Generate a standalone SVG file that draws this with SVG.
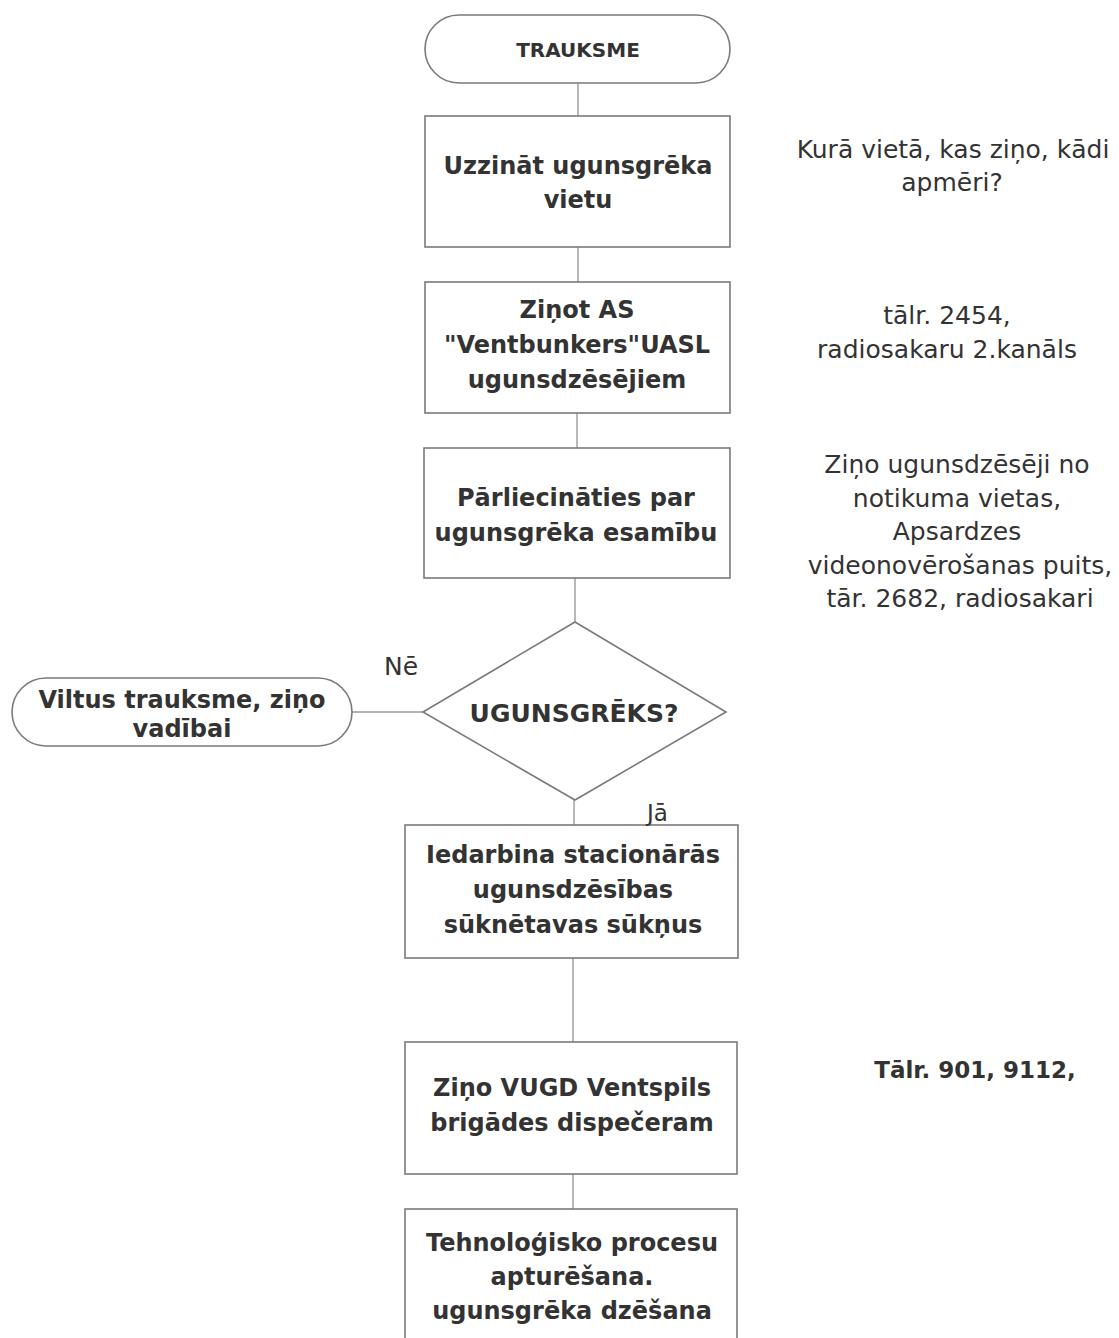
<svg xmlns="http://www.w3.org/2000/svg" width="1119" height="1338" viewBox="0 0 1119 1338">
<style>
.shape{fill:#fff;stroke:#7a7a7a;stroke-width:1.6}
.conn{fill:none;stroke:#9a9a9a;stroke-width:1.4}
.b{font-family:"DejaVu Sans","Liberation Sans",sans-serif;font-weight:bold;font-size:24px;fill:#333;text-anchor:middle}
.r{font-family:"DejaVu Sans","Liberation Sans",sans-serif;font-size:25px;fill:#333;text-anchor:middle}
</style>
<rect width="1119" height="1338" fill="#fff"/>
<g id="connectors">
<line class="conn" x1="578" y1="83" x2="578" y2="116"/>
<line class="conn" x1="578" y1="247" x2="578" y2="282"/>
<line class="conn" x1="577" y1="413" x2="577" y2="448"/>
<line class="conn" x1="575" y1="578" x2="575" y2="622"/>
<line class="conn" x1="423" y1="712" x2="352" y2="712"/>
<line class="conn" x1="574" y1="800" x2="574" y2="825"/>
<line class="conn" x1="573" y1="958" x2="573" y2="1042"/>
<line class="conn" x1="573" y1="1174" x2="573" y2="1209"/>
</g>
<g id="start">
<rect class="shape" x="425" y="15" width="305" height="68" rx="34"/>
<text class="b" x="578" y="57" style="font-size:20px">TRAUKSME</text>
</g>
<g id="box1">
<rect class="shape" x="425" y="116" width="305" height="131"/>
<text class="b" x="578" y="174">Uzzināt ugunsgrēka</text>
<text class="b" x="578" y="208">vietu</text>
</g>
<g id="box2">
<rect class="shape" x="425" y="282" width="305" height="131"/>
<text class="b" x="577" y="318">Ziņot AS</text>
<text class="b" x="577" y="353">"Ventbunkers"UASL</text>
<text class="b" x="577" y="388">ugunsdzēsējiem</text>
</g>
<g id="box3">
<rect class="shape" x="424" y="448" width="306" height="130"/>
<text class="b" x="576" y="506">Pārliecināties par</text>
<text class="b" x="576" y="541">ugunsgrēka esamību</text>
</g>
<g id="decision">
<polygon class="shape" points="575,622 726,712 575,800 423,712"/>
<text class="b" x="574" y="722" style="font-size:25px">UGUNSGRĒKS?</text>
</g>
<g id="false-alarm">
<rect class="shape" x="12" y="678" width="340" height="68" rx="34"/>
<text class="b" x="182" y="708">Viltus trauksme, ziņo</text>
<text class="b" x="182" y="737">vadībai</text>
</g>
<g id="box4">
<rect class="shape" x="405" y="825" width="333" height="133"/>
<text class="b" x="573" y="863">Iedarbina stacionārās</text>
<text class="b" x="573" y="898">ugunsdzēsības</text>
<text class="b" x="573" y="933">sūknētavas sūkņus</text>
</g>
<g id="box5">
<rect class="shape" x="405" y="1042" width="332" height="132"/>
<text class="b" x="572" y="1096">Ziņo VUGD Ventspils</text>
<text class="b" x="572" y="1131">brigādes dispečeram</text>
</g>
<g id="box6">
<rect class="shape" x="405" y="1209" width="332" height="140"/>
<text class="b" x="572" y="1251">Tehnoloģisko procesu</text>
<text class="b" x="572" y="1285">apturēšana.</text>
<text class="b" x="572" y="1319">ugunsgrēka dzēšana</text>
</g>
<g id="labels">
<text class="r" x="384" y="675" style="text-anchor:start">Nē</text>
<text class="r" x="647" y="821" style="text-anchor:start;font-size:23px">Jā</text>
</g>
<g id="notes">
<text class="r" x="953" y="158">Kurā vietā, kas ziņo, kādi</text>
<text class="r" x="952" y="191">apmēri?</text>
<text class="r" x="947" y="324">tālr. 2454,</text>
<text class="r" x="947" y="358">radiosakaru 2.kanāls</text>
<text class="r" x="957" y="473">Ziņo ugunsdzēsēji no</text>
<text class="r" x="957" y="507">notikuma vietas,</text>
<text class="r" x="957" y="540">Apsardzes</text>
<text class="r" x="960" y="574">videonovērošanas puits,</text>
<text class="r" x="960" y="607">tār. 2682, radiosakari</text>
<text class="b" x="975" y="1078" style="font-size:23px">Tālr. 901, 9112,</text>
</g>
</svg>
